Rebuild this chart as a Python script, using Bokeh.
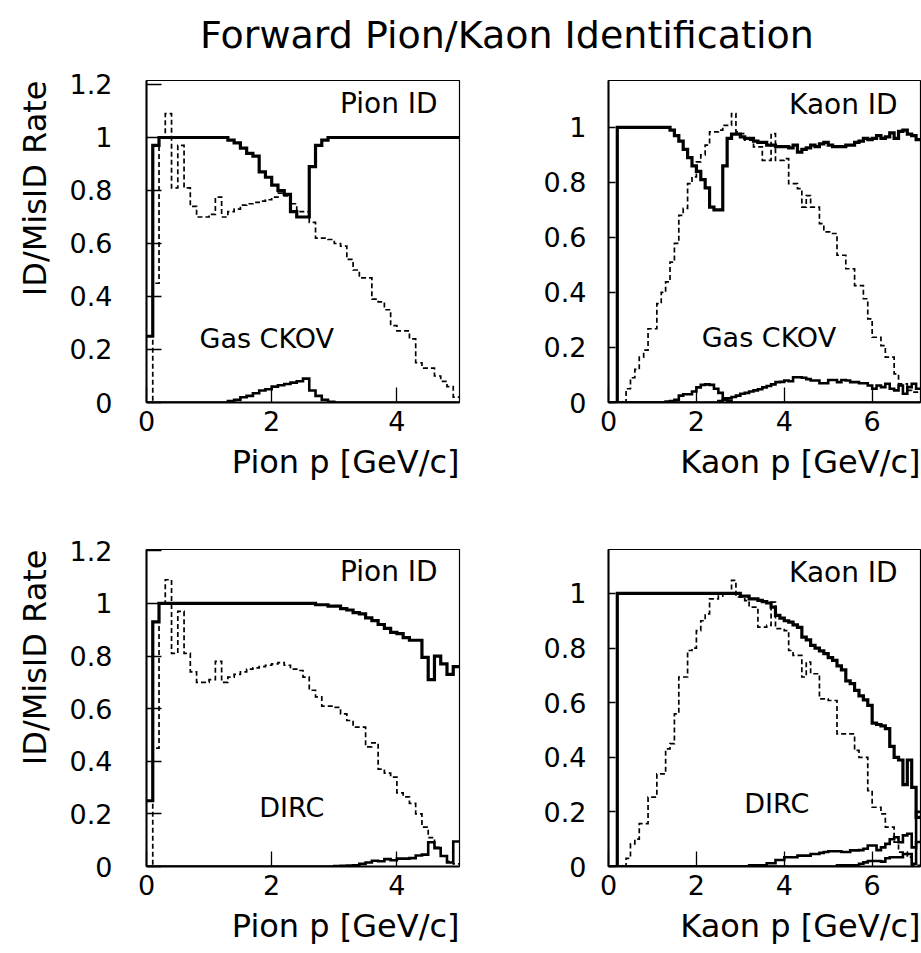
import numpy as np
from bokeh.plotting import figure
from bokeh.models import Label, FixedTicker, NumeralTickFormatter, Div, Range1d, Title
from bokeh.layouts import column, row
from bokeh.embed import file_html
from bokeh.resources import INLINE

# ---------------- data ----------------
title_text = "Forward Pion/Kaon Identification"
y_title = "ID/MisID Rate"
pion_x_title = "Pion p [GeV/c]"
kaon_x_title = "Kaon p [GeV/c]"

# histogram bin edges: 0.1 GeV/c bins
pion_edges = np.round(np.arange(51) * 0.1, 1)   # 0 .. 5.0
kaon_edges = np.round(np.arange(72) * 0.1, 1)   # 0 .. 7.1

pion_xticks = [0, 2, 4]
kaon_xticks = [0, 2, 4, 6]
pion_yticks = [0, 0.2, 0.4, 0.6, 0.8, 1.0, 1.2]
kaon_yticks = [0, 0.2, 0.4, 0.6, 0.8, 1.0]

# ---- Gas CKOV, pion panel ----
gas_pion_id = [0.25, 0.97, 1, 1, 1, 1, 1, 1, 1, 1,
               1, 1, 1, 0.99, 0.98, 0.96, 0.94, 0.93, 0.87, 0.85,
               0.82, 0.80, 0.785, 0.72, 0.70, 0.70, 0.89, 0.97, 0.99, 1,
               1, 1, 1, 1, 1, 1, 1, 1, 1, 1,
               1, 1, 1, 1, 1, 1, 1, 1, 1, 1]
gas_pion_dash = [0.0, 0.45, 1.0, 1.09, 0.81, 0.97, 0.81, 0.74, 0.70, 0.70,
                 0.71, 0.775, 0.70, 0.72, 0.73, 0.745, 0.75, 0.755, 0.76, 0.765,
                 0.775, 0.79, 0.78, 0.75, 0.72, 0.72, 0.68, 0.62, 0.62, 0.615,
                 0.60, 0.59, 0.54, 0.50, 0.47, 0.47, 0.39, 0.38, 0.35, 0.29,
                 0.27, 0.27, 0.24, 0.15, 0.13, 0.13, 0.10, 0.08, 0.06, 0.02]
gas_pion_low = [0, 0, 0, 0, 0, 0, 0, 0, 0, 0,
                0, 0, 0, 0.005, 0.01, 0.02, 0.025, 0.035, 0.045, 0.05,
                0.06, 0.065, 0.07, 0.075, 0.08, 0.09, 0.045, 0.025, 0.01, 0.003,
                0, 0, 0, 0, 0, 0, 0, 0, 0, 0,
                0, 0, 0, 0, 0, 0, 0, 0, 0, 0]

# ---- DIRC, pion panel ----
dirc_pion_id = [0.25, 0.93, 1, 1, 1, 1, 1, 1, 1, 1,
                1, 1, 1, 1, 1, 1, 1, 1, 1, 1,
                1, 1, 1, 1, 1, 1, 1, 0.995, 0.995, 0.99,
                0.99, 0.98, 0.975, 0.965, 0.96, 0.945, 0.935, 0.92, 0.905, 0.89,
                0.885, 0.87, 0.86, 0.86, 0.795, 0.71, 0.80, 0.77, 0.73, 0.76]
dirc_pion_dash = [0.0, 0.45, 1.0, 1.09, 0.81, 0.97, 0.81, 0.74, 0.70, 0.70,
                  0.71, 0.78, 0.70, 0.72, 0.73, 0.74, 0.75, 0.755, 0.76, 0.765,
                  0.77, 0.775, 0.765, 0.75, 0.745, 0.72, 0.67, 0.645, 0.61, 0.61,
                  0.605, 0.58, 0.555, 0.53, 0.53, 0.455, 0.47, 0.37, 0.355, 0.34,
                  0.28, 0.265, 0.24, 0.20, 0.15, 0.11, 0.073, 0.04, 0.02, 0.01]
dirc_pion_low = [0, 0, 0, 0, 0, 0, 0, 0, 0, 0,
                 0, 0, 0, 0, 0, 0, 0, 0, 0, 0,
                 0, 0, 0, 0, 0, 0, 0, 0, 0, 0,
                 0.002, 0.003, 0.004, 0.005, 0.01, 0.015, 0.022, 0.02, 0.028, 0.024,
                 0.03, 0.03, 0.032, 0.042, 0.045, 0.092, 0.07, 0.04, 0.015, 0.095]

# ---- Gas CKOV, kaon panel ----
gas_kaon_id = [0, 0, 1, 1, 1, 1, 1, 1, 1, 1,
               1, 1, 1, 1, 0.99, 0.97, 0.95, 0.92, 0.89, 0.86,
               0.84, 0.81, 0.78, 0.71, 0.70, 0.70, 0.86, 0.96, 0.975, 0.975,
               0.965, 0.96, 0.96, 0.95, 0.945, 0.945, 0.935, 0.935, 0.93, 0.93,
               0.93, 0.925, 0.935, 0.91, 0.92, 0.925, 0.935, 0.93, 0.94, 0.945,
               0.935, 0.93, 0.93, 0.93, 0.935, 0.935, 0.945, 0.95, 0.96, 0.955,
               0.96, 0.97, 0.96, 0.965, 0.98, 0.96, 0.985, 0.99, 0.975, 0.97,
               0.955]
gas_kaon_dash = [0, 0, 0, 0, 0.05, 0.09, 0.12, 0.165, 0.19, 0.268,
                 0.268, 0.359, 0.40, 0.438, 0.51, 0.578, 0.68, 0.705, 0.795, 0.82,
                 0.874, 0.90, 0.935, 0.983, 0.983, 0.99, 1.007, 1.007, 1.05, 0.983,
                 0.977, 0.953, 0.953, 0.929, 0.929, 0.88, 0.88, 0.977, 0.88, 0.88,
                 0.886, 0.795, 0.795, 0.777, 0.71, 0.752, 0.71, 0.71, 0.65, 0.62,
                 0.62, 0.614, 0.535, 0.535, 0.486, 0.486, 0.425, 0.425, 0.377, 0.304,
                 0.237, 0.237, 0.207, 0.165, 0.165, 0.104, 0.068, 0.068, 0.044, 0.038,
                 0.038]
gas_kaon_low1 = [0, 0, 0, 0, 0, 0, 0, 0, 0, 0,
                 0, 0, 0, 0.003, 0.005, 0.01, 0.025, 0.03, 0.03, 0.04,
                 0.055, 0.064, 0.066, 0.064, 0.05, 0.035, 0.015, 0.005, 0, 0,
                 0, 0, 0, 0, 0, 0, 0, 0, 0, 0,
                 0, 0, 0, 0, 0, 0, 0, 0, 0, 0,
                 0, 0, 0, 0, 0, 0, 0, 0, 0, 0,
                 0, 0, 0, 0, 0, 0, 0, 0, 0, 0,
                 0]
gas_kaon_low2 = [0, 0, 0, 0, 0, 0, 0, 0, 0, 0,
                 0, 0, 0, 0, 0, 0, 0, 0, 0, 0,
                 0, 0, 0, 0, 0, 0.005, 0.01, 0.015, 0.02, 0.025,
                 0.032, 0.035, 0.04, 0.044, 0.048, 0.055, 0.06, 0.066, 0.074, 0.075,
                 0.08, 0.077, 0.092, 0.092, 0.09, 0.085, 0.08, 0.08, 0.07, 0.07,
                 0.082, 0.082, 0.074, 0.082, 0.08, 0.074, 0.074, 0.07, 0.07, 0.062,
                 0.05, 0.062, 0.056, 0.068, 0.05, 0.044, 0.062, 0.032, 0.056, 0.068,
                 0.05]

# ---- DIRC, kaon panel ----
dirc_kaon_id = [0, 0, 1, 1, 1, 1, 1, 1, 1, 1,
                1, 1, 1, 1, 1, 1, 1, 1, 1, 1,
                1, 1, 1, 1, 1, 1, 1, 1, 1, 1,
                0.99, 0.99, 0.98, 0.98, 0.975, 0.97, 0.965, 0.95, 0.92, 0.91,
                0.90, 0.895, 0.885, 0.876, 0.84, 0.83, 0.81, 0.80, 0.79, 0.78,
                0.765, 0.755, 0.735, 0.72, 0.68, 0.67, 0.645, 0.625, 0.61, 0.59,
                0.525, 0.52, 0.515, 0.505, 0.44, 0.40, 0.39, 0.30, 0.39, 0.29,
                0.18]
dirc_kaon_dash = [0, 0, 0, 0, 0.03, 0.083, 0.10, 0.157, 0.157, 0.254,
                  0.254, 0.339, 0.339, 0.431, 0.45, 0.559, 0.694, 0.694, 0.791, 0.80,
                  0.864, 0.90, 0.925, 0.98, 0.98, 0.99, 1.0, 1.0, 1.048, 0.987,
                  0.987, 0.974, 0.95, 0.95, 0.877, 0.877, 0.883, 0.968, 0.871, 0.871,
                  0.864, 0.791, 0.773, 0.773, 0.694, 0.749, 0.706, 0.706, 0.614, 0.614,
                  0.608, 0.608, 0.486, 0.486, 0.486, 0.486, 0.425, 0.40, 0.40, 0.278,
                  0.217, 0.217, 0.193, 0.144, 0.144, 0.089, 0.053, 0.053, 0.034, 0.004,
                  0.004]
dirc_kaon_low1 = [0, 0, 0, 0, 0, 0, 0, 0, 0, 0,
                  0, 0, 0, 0, 0, 0, 0, 0, 0, 0,
                  0, 0, 0, 0, 0, 0, 0, 0, 0, 0,
                  0, 0, 0.004, 0.004, 0.004, 0.004, 0.012, 0.012, 0.024, 0.024,
                  0.034, 0.034, 0.034, 0.04, 0.04, 0.04, 0.046, 0.046, 0.05, 0.053,
                  0.056, 0.056, 0.056, 0.053, 0.053, 0.059, 0.059, 0.06, 0.065, 0.077,
                  0.077, 0.06, 0.07, 0.083, 0.10, 0.107, 0.089, 0.114, 0.12, 0.07,
                  0.2]
dirc_kaon_low2 = [0, 0, 0, 0, 0, 0, 0, 0, 0, 0,
                  0, 0, 0, 0, 0, 0, 0, 0, 0, 0,
                  0, 0, 0, 0, 0, 0, 0, 0, 0, 0,
                  0, 0, 0, 0, 0, 0, 0, 0, 0, 0,
                  0, 0, 0, 0, 0, 0, 0, 0, 0, 0,
                  0, 0, 0.004, 0.004, 0.004, 0.004, 0.004, 0.01, 0.015, 0.02,
                  0.02, 0.02, 0.018, 0.03, 0.034, 0.034, 0.034, 0.046, 0.046, 0.01,
                  0.09]

# ---------------- drawing ----------------
FONT = "DejaVu Sans"


def hist(p, edges, vals, **kw):
    xs = list(edges)
    ys = list(vals) + [vals[-1]]
    p.step(xs, ys, mode="after", line_color="black", line_join="miter", **kw)


def panel(width, height, xmax, ymax, borders, xticks, yticks, ytick_len, ystand):
    bl, br, bt, bb = borders
    p = figure(width=width, height=height,
               x_range=Range1d(0, xmax), y_range=Range1d(0, ymax),
               output_backend="svg", toolbar_location=None,
               min_border_left=bl, min_border_right=br,
               min_border_top=bt, min_border_bottom=bb,
               background_fill_color="white", border_fill_color="white")
    p.grid.visible = False
    p.outline_line_color = "black"
    p.outline_line_width = 1.2
    for ax, ticks, tin, stand in ((p.xaxis, xticks, 15, 8), (p.yaxis, yticks, ytick_len, ystand)):
        ax.ticker = FixedTicker(ticks=ticks, minor_ticks=[])
        ax.major_tick_in = tin
        ax.major_tick_out = 0
        ax.minor_tick_in = 0
        ax.minor_tick_out = 0
        ax.major_tick_line_color = "black"
        ax.major_tick_line_width = 1.3
        ax.axis_line_color = "black"
        ax.axis_line_width = 2
        ax.major_label_standoff = stand
        ax.major_label_text_font = FONT
        ax.major_label_text_font_size = "27px"
        ax.major_label_text_color = "black"
    p.yaxis.formatter = NumeralTickFormatter(format="0.[0]")
    return p


def lab(p, x, y, text, size, align="center"):
    p.add_layout(Label(x=x, y=y, text=text, text_font=FONT, text_font_size=size,
                       text_align=align, text_baseline="middle", text_color="black"))


def side_title(p, text, place, standoff):
    p.add_layout(Title(text=text, align="right", text_font=FONT, text_font_size="32px",
                       text_font_style="normal", text_color="black", standoff=standoff),
                 place)


DASH = dict(line_width=1.7, line_dash="5 3")
SOLID = dict(line_width=3.2)
LOW = dict(line_width=2.6)

# top-left : pion, gas CKOV
p1 = panel(540, 469, 5.0, 1.215, (145, 81, 22, 125), pion_xticks, pion_yticks, 15, 34)
hist(p1, pion_edges, gas_pion_dash, **DASH)
hist(p1, pion_edges, gas_pion_low, **LOW)
hist(p1, pion_edges, gas_pion_id, **SOLID)
lab(p1, 4.65, 1.128, "Pion ID", "28px", "right")
lab(p1, 1.92, 0.24, "Gas CKOV", "27px")
side_title(p1, pion_x_title, "below", 15)
side_title(p1, y_title, "left", 26)

# top-right : kaon, gas CKOV
p2 = panel(381, 469, 7.1, 1.17, (65, 1, 22, 125), kaon_xticks, kaon_yticks, 7, 22)
hist(p2, kaon_edges, gas_kaon_dash, **DASH)
hist(p2, kaon_edges, gas_kaon_low1, **LOW)
hist(p2, kaon_edges, gas_kaon_low2, **LOW)
hist(p2, kaon_edges, gas_kaon_id, **SOLID)
lab(p2, 6.58, 1.083, "Kaon ID", "28px", "right")
lab(p2, 3.65, 0.236, "Gas CKOV", "27px")
side_title(p2, kaon_x_title, "below", 15)

# bottom-left : pion, DIRC
p3 = panel(540, 425, 5.0, 1.205, (145, 81, 22, 86), pion_xticks, pion_yticks, 15, 34)
hist(p3, pion_edges, dirc_pion_dash, **DASH)
hist(p3, pion_edges, dirc_pion_low, **LOW)
hist(p3, pion_edges, dirc_pion_id, **SOLID)
lab(p3, 4.65, 1.12, "Pion ID", "28px", "right")
lab(p3, 2.32, 0.224, "DIRC", "27px")
side_title(p3, pion_x_title, "below", 15)
side_title(p3, y_title, "left", 26)

# bottom-right : kaon, DIRC
p4 = panel(381, 425, 7.1, 1.161, (65, 1, 22, 86), kaon_xticks, kaon_yticks, 7, 22)
hist(p4, kaon_edges, dirc_kaon_dash, **DASH)
hist(p4, kaon_edges, dirc_kaon_low1, **LOW)
hist(p4, kaon_edges, dirc_kaon_low2, **LOW)
hist(p4, kaon_edges, dirc_kaon_id, **SOLID)
lab(p4, 6.58, 1.077, "Kaon ID", "28px", "right")
lab(p4, 3.83, 0.231, "DIRC", "27px")
side_title(p4, kaon_x_title, "below", 15)

title = Div(text=('<div style="font-family: \'DejaVu Sans\'; font-size: 38px; line-height: 38px; '
                  'padding-left: 200px; padding-top: 16px; white-space: nowrap; color: black;">'
                  + title_text + '</div>'),
            width=921, height=58, margin=0)

layout = column(title, row(p1, p2, spacing=0), row(p3, p4, spacing=0), spacing=0)

with open("out.html", "w") as f:
    f.write(file_html(layout, INLINE))
